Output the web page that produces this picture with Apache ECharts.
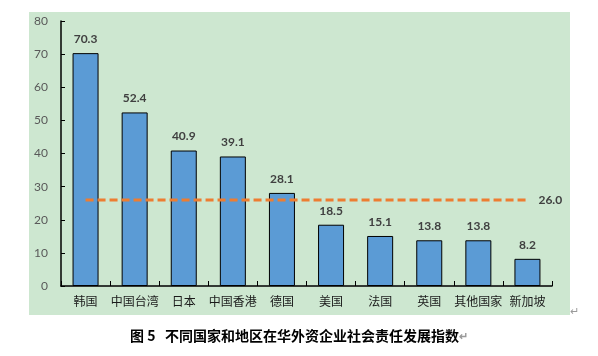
<!DOCTYPE html>
<html><head><meta charset="utf-8">
<script src="https://cdn.jsdelivr.net/npm/echarts@6/dist/echarts.min.js"></script>
<style>html,body{margin:0;padding:0;background:#fff}#c{width:598px;height:356px}</style>
</head><body><div id="c"></div>
<script>
const categories = ['韩国','中国台湾','日本','中国香港','德国','美国','法国','英国','其他国家','新加坡'];
const indexValues = [70.3, 52.4, 40.9, 39.1, 28.1, 18.5, 15.1, 13.8, 13.8, 8.2];
const averageValue = 26.0;
const averageLine = categories.map(() => averageValue);
const yTicks = {min: 0, max: 80, interval: 10};
const titleText = '图 5   不同国家和地区在华外资企业社会责任发展指数';

const numFont = 'Lato, "Open Sans", sans-serif';
const chart = echarts.init(document.getElementById('c'), null, {renderer: 'canvas'});
chart.setOption({
  animation: false,
  backgroundColor: '#ffffff',
  graphic: [
    {type: 'rect', z: -10, shape: {x: 29, y: 12, width: 541, height: 303}, style: {fill: '#CDE7D0'}},
    {type: 'text', left: 570, top: 305, style: {text: '↵', fill: '#9a9a9a', font: '11px "Noto Sans CJK SC"'}}
  ],
  title: {
    text: '{t|' + titleText + '}{m|↵}',
    left: 'center', top: 324,
    textStyle: {
      rich: {
        t: {fontFamily: '"Noto Sans CJK SC"', fontWeight: 'bold', fontSize: 14, color: '#000'},
        m: {fontFamily: '"Noto Sans CJK SC"', fontSize: 11, color: '#9a9a9a'}
      }
    }
  },
  grid: {left: 61, right: 46, top: 21, bottom: 70},
  xAxis: {
    type: 'category', data: categories,
    axisLine: {lineStyle: {color: '#000', width: 1.5}},
    axisTick: {show: true, inside: true, length: 5, lineStyle: {color: '#000'}},
    axisLabel: {color: '#1a1a1a', fontSize: 12, margin: 9, fontFamily: '"Noto Sans CJK SC"', interval: 0}
  },
  yAxis: {
    type: 'value', min: yTicks.min, max: yTicks.max, interval: yTicks.interval,
    axisLine: {show: true, lineStyle: {color: '#000', width: 1.5}},
    axisTick: {show: true, inside: true, length: 4, lineStyle: {color: '#000'}},
    axisLabel: {color: '#595959', fontSize: 12, margin: 13, fontFamily: numFont},
    splitLine: {show: false}
  },
  series: [
    {
      type: 'bar', data: indexValues, barWidth: 26,
      itemStyle: {color: '#5B9BD5', borderColor: '#000', borderWidth: 1},
      label: {show: true, position: 'top', distance: 8, formatter: p => p.value.toFixed(1),
        color: '#404040', fontWeight: 'bold', fontSize: 12, fontFamily: numFont}
    },
    {
      type: 'line', data: averageLine, symbol: 'none', z: 5,
      lineStyle: {color: '#ED7D31', width: 3, type: [8, 4]},
      endLabel: {show: true, formatter: () => averageValue.toFixed(1), distance: 11,
        color: '#404040', fontWeight: 'bold', fontSize: 12, fontFamily: numFont}
    }
  ]
});
</script></body></html>
